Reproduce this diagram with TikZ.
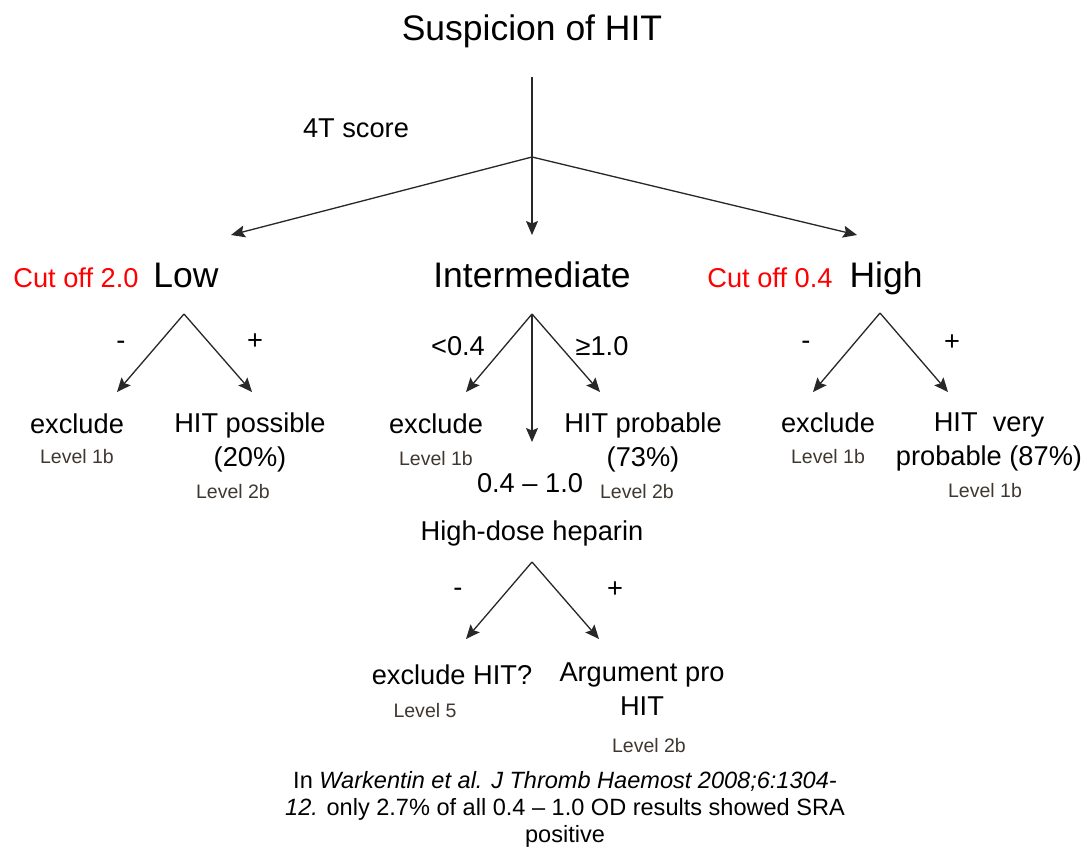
\documentclass[tikz,border=0pt]{standalone}
\usepackage{fontspec}
\setmainfont{Liberation Sans}
\usetikzlibrary{arrows.meta}
\definecolor{lvlgray}{RGB}{64,56,48}
\definecolor{linegray}{RGB}{40,40,40}

\begin{document}
\begin{tikzpicture}[x=0.02cm, y=-0.02cm,
    every node/.style={inner sep=0pt, anchor=base},
    big/.style={font=\fontsize{20.2}{24}\selectfont},
    mid/.style={font=\fontsize{15.5}{18.8}\selectfont, align=center},
    lvl/.style={font=\fontsize{11.1}{13}\selectfont, text=lvlgray},
    cut/.style={mid, text=red},
    sgn/.style={font=\fontsize{15.5}{18.8}\selectfont, anchor=center},
    arr/.style={draw=linegray, line width=0.75pt, -{Stealth[length=2.8mm, width=2.4mm, inset=0.5mm]}}]
  \useasboundingbox (0,0) rectangle (1091,848);

  % top of the tree
  \node[big] (title) at (532,41) {Suspicion of HIT};
  \node[mid] (score) at (356,137) {4T score};
  \coordinate (top) at (532,77);
  \coordinate (fork) at (532,157);
  \coordinate (tolow) at (231,235);
  \coordinate (tointer) at (532,235);
  \coordinate (tohigh) at (857,235);
  \draw[linegray, line width=0.75pt] (top) -- (fork);
  \draw[arr] (fork) -- (tolow);
  \draw[arr] (fork) -- (tointer);
  \draw[arr] (fork) -- (tohigh);

  \node[cut] (cutlow) at (76,287) {Cut off 2.0};
  \node[big] (low) at (186,287) {Low};
  \node[big] (inter) at (532,287) {Intermediate};
  \node[cut] (cuthigh) at (770,287) {Cut off 0.4};
  \node[big] (high) at (886,287) {High};

  % low
  \coordinate (lowapex) at (184,314);
  \coordinate (lowl) at (117,392);
  \coordinate (lowr) at (252,392);
  \draw[arr] (lowapex) -- (lowl);
  \draw[arr] (lowapex) -- (lowr);
  \node[sgn] (lowneg) at (121,345) {-};
  \node[sgn] (lowpos) at (255,342) {+};
  \node[mid] (lowex) at (77,433) {exclude};
  \node[lvl] (lowexlvl) at (77,463) {Level 1b};
  \node[mid] (lowhit) at (250,466) {HIT possible\\(20\%)};
  \node[lvl] (lowhitlvl) at (233,498) {Level 2b};

  % intermediate
  \coordinate (interapex) at (532,314);
  \coordinate (interl) at (466,392);
  \coordinate (interm) at (532,442);
  \coordinate (interr) at (600,392);
  \draw[arr] (interapex) -- (interl);
  \draw[arr] (interapex) -- (interm);
  \draw[arr] (interapex) -- (interr);
  \node[mid] (interlt) at (458,355) {<0.4};
  \node[mid] (interge) at (602,355) {≥1.0};
  \node[mid] (interex) at (436,433) {exclude};
  \node[lvl] (interexlvl) at (436,465) {Level 1b};
  \node[mid] (range) at (530,492) {0.4 -- 1.0};
  \node[mid] (interhit) at (643,466) {HIT probable\\(73\%)};
  \node[lvl] (interhitlvl) at (637,498) {Level 2b};

  % high-dose heparin
  \node[mid] (hdh) at (532,540) {High-dose heparin};
  \coordinate (hdhapex) at (532,562);
  \coordinate (hdhl) at (466,639);
  \coordinate (hdhr) at (599,639);
  \draw[arr] (hdhapex) -- (hdhl);
  \draw[arr] (hdhapex) -- (hdhr);
  \node[sgn] (hdhneg) at (458,592) {-};
  \node[sgn] (hdhpos) at (615,590) {+};
  \node[mid] (hdhex) at (452,684) {exclude HIT?};
  \node[lvl] (hdhexlvl) at (425,717) {Level 5};
  \node[mid] (hdhpro) at (642,715) {Argument pro\\HIT};
  \node[lvl] (hdhprolvl) at (649,752) {Level 2b};

  % high
  \coordinate (highapex) at (880,313);
  \coordinate (highl) at (813,392);
  \coordinate (highr) at (948,392);
  \draw[arr] (highapex) -- (highl);
  \draw[arr] (highapex) -- (highr);
  \node[sgn] (highneg) at (806,345) {-};
  \node[sgn] (highpos) at (952,343) {+};
  \node[mid] (highex) at (828,432) {exclude};
  \node[lvl] (highexlvl) at (828,463) {Level 1b};
  \node[mid] (highhit) at (989,465) {HIT~ very\\probable (87\%)};
  \node[lvl] (highhitlvl) at (985,497) {Level 1b};

  % reference
  \node[font=\fontsize{13.4}{15.1}\selectfont, align=center] (note) at (565,842)
    {In \textit{Warkentin et al. J Thromb Haemost 2008;6:1304-}\\
     \textit{12.} only 2.7\% of all 0.4 -- 1.0 OD results showed SRA\\
     positive};
\end{tikzpicture}
\end{document}
